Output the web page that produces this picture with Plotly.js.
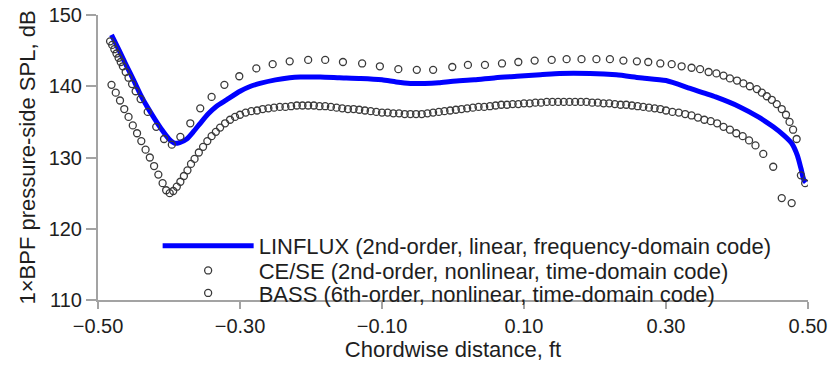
<!DOCTYPE html>
<html>
<head>
<meta charset="utf-8">
<script src="https://cdn.plot.ly/plotly-3.0.1.min.js"></script>
<style>html,body{margin:0;padding:0;background:#fff;} #chart{width:831px;height:370px;}</style>
</head>
<body>
<div id="chart"></div>
<script>
// LINFLUX (2nd-order, linear, frequency-domain code)
var linfluxX = [-0.481,-0.470,-0.460,-0.450,-0.440,-0.430,-0.420,-0.410,-0.400,-0.392,-0.385,-0.375,-0.365,-0.356,-0.345,-0.333,-0.319,-0.300,-0.285,-0.272,-0.250,-0.230,-0.215,-0.187,-0.160,-0.130,-0.100,-0.080,-0.060,-0.040,-0.020,0.000,0.030,0.060,0.090,0.123,0.150,0.193,0.230,0.263,0.300,0.334,0.370,0.404,0.430,0.451,0.466,0.477,0.485,0.490,0.494,0.497];
var linfluxY = [147.2,145.0,142.9,140.9,138.8,137.0,135.4,133.9,132.6,132.0,132.1,132.6,133.7,134.8,136.1,137.2,138.1,139.3,140.0,140.4,140.9,141.2,141.3,141.3,141.2,141.1,140.9,140.6,140.4,140.4,140.5,140.7,140.9,141.2,141.4,141.6,141.8,141.8,141.6,141.2,140.8,139.7,138.5,137.1,135.7,134.3,133.1,132.0,130.3,128.5,126.9,126.5];

// CE/SE (2nd-order, nonlinear, time-domain code)
var ceseX = [-0.483,-0.480,-0.477,-0.474,-0.471,-0.468,-0.465,-0.461,-0.457,-0.452,-0.447,-0.440,-0.430,-0.418,-0.407,-0.396,-0.384,-0.370,-0.356,-0.340,-0.322,-0.301,-0.277,-0.254,-0.230,-0.204,-0.180,-0.155,-0.128,-0.103,-0.077,-0.051,-0.028,-0.001,0.021,0.045,0.069,0.092,0.115,0.139,0.160,0.181,0.202,0.221,0.240,0.259,0.275,0.292,0.308,0.322,0.336,0.348,0.360,0.371,0.381,0.390,0.400,0.409,0.418,0.428,0.435,0.442,0.449,0.456,0.463,0.469,0.474,0.479,0.484,0.490,0.496];
var ceseY = [146.3,145.8,145.2,144.6,144.0,143.4,142.8,142.0,141.2,140.3,139.3,138.2,136.4,134.3,132.6,131.8,132.9,134.8,136.9,138.5,140.2,141.4,142.5,143.1,143.5,143.7,143.7,143.4,143.2,142.8,142.4,142.3,142.3,142.7,143.0,143.0,143.2,143.4,143.6,143.7,143.8,143.8,143.8,143.8,143.6,143.5,143.4,143.2,143.1,142.8,142.6,142.4,142.0,141.8,141.5,141.1,140.8,140.4,140.0,139.6,139.1,138.6,138.1,137.5,136.8,136.0,135.0,133.9,132.6,127.5,126.4];

// BASS (6th-order, nonlinear, time-domain code)
var bassX = [-0.481,-0.475,-0.469,-0.463,-0.457,-0.451,-0.445,-0.439,-0.433,-0.427,-0.421,-0.415,-0.409,-0.404,-0.399,-0.394,-0.389,-0.384,-0.379,-0.374,-0.369,-0.364,-0.358,-0.352,-0.346,-0.340,-0.334,-0.328,-0.321,-0.314,-0.307,-0.300,-0.292,-0.284,-0.276,-0.268,-0.260,-0.252,-0.244,-0.236,-0.228,-0.220,-0.212,-0.204,-0.196,-0.188,-0.180,-0.172,-0.164,-0.156,-0.148,-0.140,-0.132,-0.124,-0.116,-0.108,-0.100,-0.092,-0.084,-0.076,-0.068,-0.060,-0.052,-0.044,-0.036,-0.028,-0.020,-0.012,-0.004,0.004,0.012,0.020,0.028,0.036,0.044,0.052,0.060,0.068,0.076,0.084,0.092,0.100,0.108,0.116,0.124,0.132,0.140,0.148,0.156,0.164,0.172,0.180,0.188,0.196,0.204,0.212,0.220,0.228,0.236,0.244,0.252,0.260,0.268,0.276,0.284,0.292,0.300,0.309,0.318,0.327,0.336,0.345,0.354,0.363,0.372,0.381,0.390,0.399,0.408,0.417,0.426,0.437,0.451,0.463,0.477];
var bassY = [140.2,139.1,138.0,136.8,135.7,134.5,133.4,132.3,131.1,130.0,128.8,127.6,126.4,125.4,125.0,125.3,125.9,126.6,127.4,128.2,129.1,129.8,130.7,131.5,132.3,133.0,133.6,134.2,134.8,135.3,135.7,136.0,136.3,136.5,136.6,136.8,136.9,137.0,137.1,137.1,137.2,137.3,137.3,137.3,137.3,137.2,137.2,137.1,137.0,136.9,136.8,136.8,136.7,136.6,136.5,136.4,136.3,136.3,136.2,136.2,136.1,136.1,136.1,136.1,136.2,136.3,136.4,136.5,136.6,136.7,136.8,136.9,137.0,137.1,137.1,137.2,137.3,137.4,137.4,137.5,137.5,137.6,137.6,137.7,137.7,137.8,137.8,137.8,137.8,137.8,137.8,137.8,137.8,137.7,137.7,137.6,137.6,137.5,137.4,137.4,137.3,137.2,137.1,137.0,136.9,136.8,136.6,136.4,136.3,136.1,135.9,135.6,135.3,135.1,134.8,134.3,133.9,133.4,133.0,132.4,131.7,130.5,128.7,124.3,123.6];

var seriesNames = ['LINFLUX (2nd-order, linear, frequency-domain code)',
                   'CE/SE (2nd-order, nonlinear, time-domain code)',
                   'BASS (6th-order, nonlinear, time-domain code)'];
var xTickVals = [-0.5,-0.3,-0.1,0.1,0.3,0.5];
var yTickVals = [110,120,130,140,150];

var FONT = 'Liberation Sans, Arial, Helvetica, sans-serif';
var TXT = '#1e1e1e';
var AX = '#a3a3a3';

var markerStyle = {symbol:'circle-open', size:7, color:'#3a3a3a', line:{width:1.3, color:'#3a3a3a'}};

var traces = [
  {x: linfluxX, y: linfluxY, type:'scatter', mode:'lines', name: seriesNames[0],
   line:{color:'#0000ff', width:5, shape:'spline', smoothing:0.6}, legend:'legend'},
  {x: ceseX, y: ceseY, type:'scatter', mode:'markers', name: seriesNames[1],
   marker: markerStyle, legend:'legend2'},
  {x: bassX, y: bassY, type:'scatter', mode:'markers', name: seriesNames[2],
   marker: markerStyle, legend:'legend3'}
];

function leg(y){
  return {x:0.084, y:y, xanchor:'left', yanchor:'middle', bgcolor:'rgba(0,0,0,0)',
          borderwidth:0, itemwidth:91, font:{family:FONT, size:22, color:TXT}};
}

var layout = {
  width:831, height:370,
  margin:{l:98, r:23, t:15, b:70},
  paper_bgcolor:'#fff', plot_bgcolor:'#fff',
  font:{family:FONT, color:TXT, size:20},
  showlegend:true,
  legend: leg(0.190),
  legend2: leg(0.103),
  legend3: leg(0.024),
  xaxis:{range:[-0.5,0.5], tickvals:xTickVals, tickformat:'.2f',
         showgrid:false, zeroline:false, showline:true, linecolor:AX, linewidth:2,
         ticks:'outside', ticklen:7, tickwidth:2, tickcolor:AX,
         tickfont:{family:FONT, size:20, color:TXT},
         title:{text:'Chordwise distance, ft', font:{family:FONT, size:22, color:TXT}, standoff:5}},
  xaxis2:{range:[-0.5,0.5], overlaying:'x', anchor:'y', side:'bottom', tickvals:xTickVals,
          showgrid:false, zeroline:false, showline:false, showticklabels:false,
          ticks:'inside', ticklen:7, tickwidth:2, tickcolor:AX},
  yaxis:{range:[110,150], tickvals:yTickVals,
         showgrid:false, zeroline:false, showline:true, linecolor:AX, linewidth:2,
         ticks:'outside', ticklen:10, tickwidth:2, tickcolor:AX,
         tickfont:{family:FONT, size:20, color:TXT},
         title:{text:'1×BPF pressure-side SPL, dB', font:{family:FONT, size:22, color:TXT}, standoff:7}}
};

Plotly.newPlot('chart', traces, layout, {staticPlot:true, displayModeBar:false});
</script>
</body>
</html>
